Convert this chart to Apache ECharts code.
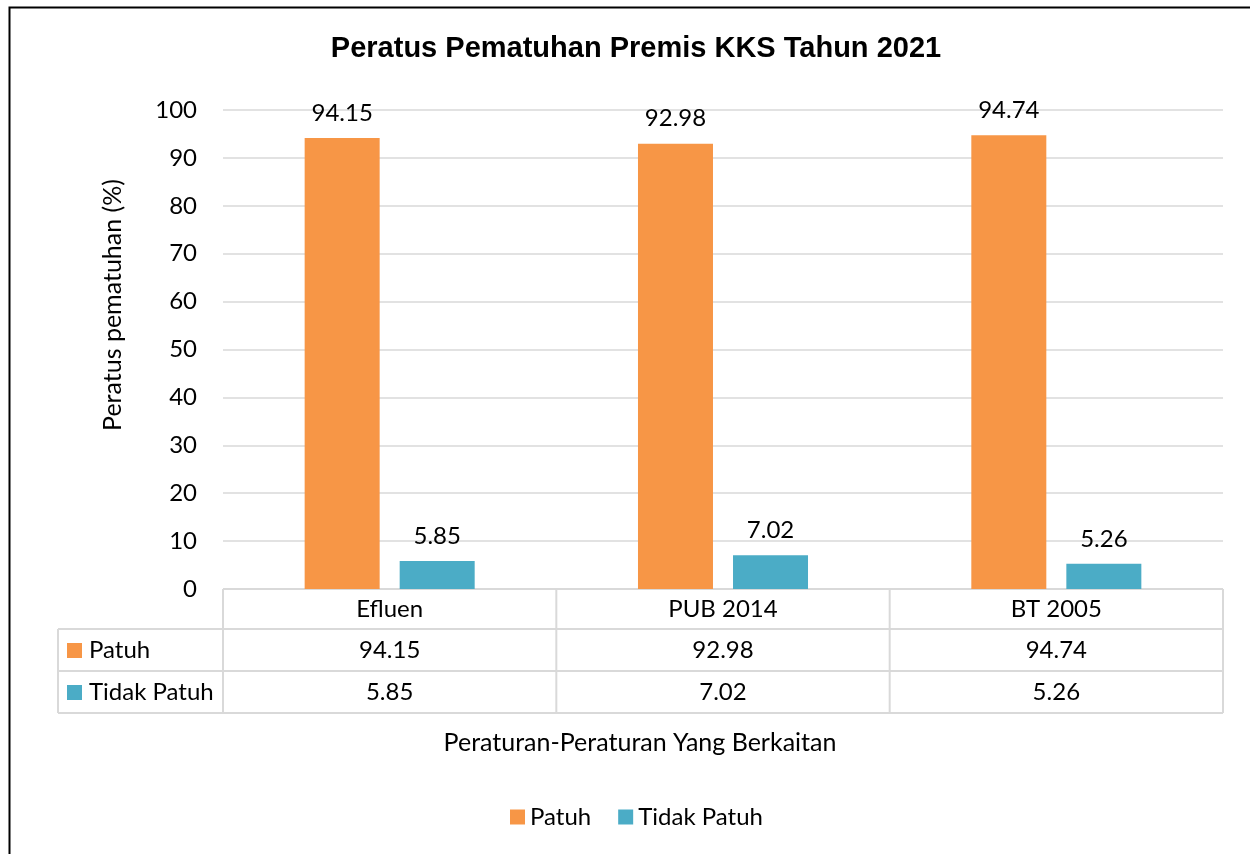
<!DOCTYPE html>
<html>
<head>
<meta charset="utf-8">
<script src="https://cdn.jsdelivr.net/npm/echarts@6/dist/echarts.min.js"></script>
<style>html,body{margin:0;padding:0;background:#fff}#c{width:1250px;height:854px}</style>
</head>
<body>
<div id="c"></div>
<script>
const categories = ['Efluen', 'PUB 2014', 'BT 2005'];
const seriesNames = ['Patuh', 'Tidak Patuh'];
const patuh = [94.15, 92.98, 94.74];
const tidakPatuh = [5.85, 7.02, 5.26];
const colors = ['#F79646', '#4BACC6'];
const titleText = 'Peratus Pematuhan Premis KKS Tahun 2021';
const yName = 'Peratus pematuhan (%)';
const xName = 'Peraturan-Peraturan Yang Berkaitan';

const FONT = 'Lato';
const FS = 24;
const FSN = 25;
const gridL = 223, gridR = 1223, gridT = 110, gridB = 589;
const rowH = [40, 42, 42];
const tableLeft = 58;
const lineColor = '#d9d9d9';

const chart = echarts.init(document.getElementById('c'), null, {renderer: 'canvas'});

const colW = (gridR - gridL) / categories.length;
const g = [];
// outer border
g.push({type: 'rect', shape: {x: 9.5, y: 7.5, width: 1260, height: 900}, style: {fill: null, stroke: '#000', lineWidth: 2}, silent: true});
// table rows
const y1 = gridB + rowH[0], y2 = y1 + rowH[1], y3 = y2 + rowH[2];
const hl = (x1, x2, y) => ({type: 'line', shape: {x1, y1: y, x2, y2: y}, style: {stroke: lineColor, lineWidth: 2}, silent: true});
const vl = (x, ya, yb) => ({type: 'line', shape: {x1: x, y1: ya, x2: x, y2: yb}, style: {stroke: lineColor, lineWidth: 2}, silent: true});
g.push(hl(gridL, gridR, gridB));
g.push(hl(tableLeft, gridR, y1));
g.push(hl(tableLeft, gridR, y2));
g.push(hl(tableLeft, gridR, y3));
g.push(vl(tableLeft, y1, y3));
for (let i = 0; i <= categories.length; i++) g.push(vl(gridL + i * colW, gridB, y3));
const rows = [patuh, tidakPatuh];
const rowMid = [gridB + rowH[0] / 2, y1 + rowH[1] / 2, y2 + rowH[2] / 2];
categories.forEach((c, i) => {
  g.push({type: 'text', x: gridL + (i + 0.5) * colW, y: rowMid[0], style: {text: c, font: FS + 'px ' + FONT, fill: '#000', align: 'center', verticalAlign: 'middle'}, silent: true});
  rows.forEach((r, k) => {
    g.push({type: 'text', x: gridL + (i + 0.5) * colW, y: rowMid[k + 1], style: {text: r[i].toFixed(2), font: FS + 'px ' + FONT, fill: '#000', align: 'center', verticalAlign: 'middle'}, silent: true});
  });
});
seriesNames.forEach((n, k) => {
  g.push({type: 'rect', shape: {x: 67, y: rowMid[k + 1] - 7, width: 15, height: 15}, style: {fill: colors[k]}, silent: true});
  g.push({type: 'text', x: 89, y: rowMid[k + 1], style: {text: n, font: FS + 'px ' + FONT, fill: '#000', align: 'left', verticalAlign: 'middle'}, silent: true});
});
// axis names
g.push({type: 'text', x: 113, y: 305, rotation: Math.PI / 2, style: {text: yName, font: FSN + 'px ' + FONT, fill: '#000', align: 'center', verticalAlign: 'middle'}, silent: true});
g.push({type: 'text', x: 640, y: 743, style: {text: xName, font: FSN + 'px ' + FONT, fill: '#000', align: 'center', verticalAlign: 'middle'}, silent: true});

chart.setOption({
  backgroundColor: '#fff',
  animation: false,
  title: {text: titleText, left: 631, textAlign: 'center', top: 29, textStyle: {fontFamily: 'Liberation Sans', fontWeight: 'bold', fontSize: 29, color: '#000'}},
  legend: {
    bottom: 20, left: 505, itemWidth: 15, itemHeight: 15, itemGap: 27, icon: 'rect',
    textStyle: {fontFamily: FONT, fontSize: FS, color: '#000'},
    data: seriesNames
  },
  grid: {left: gridL, right: 1250 - gridR, top: gridT, bottom: 854 - gridB, containLabel: false},
  xAxis: {
    type: 'category', data: categories,
    axisLine: {show: false}, axisTick: {show: false}, axisLabel: {show: false}
  },
  yAxis: {
    type: 'value', min: 0, max: 100, interval: 10,
    axisLine: {show: false}, axisTick: {show: false},
    axisLabel: {fontFamily: FONT, fontSize: FS, color: '#000', margin: 26},
    splitLine: {lineStyle: {color: lineColor, width: 1.5}}
  },
  series: [
    {name: seriesNames[0], type: 'bar', data: patuh, barWidth: 75, barGap: '26.7%', itemStyle: {color: colors[0]},
     label: {show: true, position: 'top', distance: 13, fontFamily: FONT, fontSize: FS, color: '#000', formatter: p => p.value.toFixed(2)}},
    {name: seriesNames[1], type: 'bar', data: tidakPatuh, barWidth: 75, itemStyle: {color: colors[1]},
     label: {show: true, position: 'top', distance: 13, fontFamily: FONT, fontSize: FS, color: '#000', formatter: p => p.value.toFixed(2)}}
  ],
  graphic: g
});
</script>
</body>
</html>
